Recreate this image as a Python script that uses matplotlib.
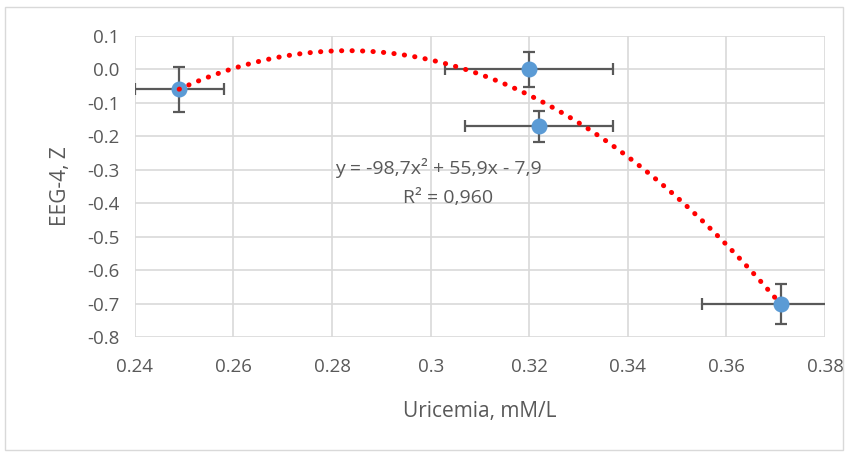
import numpy as np
import matplotlib
matplotlib.use("Agg")
import matplotlib.pyplot as plt
from matplotlib.patches import Rectangle

uricemia = [0.249, 0.320, 0.322, 0.371]
eeg_z = [-0.06, 0.00, -0.17, -0.70]
x_err = [0.009, 0.017, 0.015, 0.016]
y_err = [0.067, 0.052, 0.047, 0.060]
x_ticks = [0.24, 0.26, 0.28, 0.30, 0.32, 0.34, 0.36, 0.38]
x_tick_labels = ["0.24", "0.26", "0.28", "0.3", "0.32", "0.34", "0.36", "0.38"]
y_ticks = [0.1, 0.0, -0.1, -0.2, -0.3, -0.4, -0.5, -0.6, -0.7, -0.8]
y_tick_labels = ["0.1", "0.0", "-0.1", "-0.2", "-0.3", "-0.4", "-0.5", "-0.6", "-0.7", "-0.8"]
equation = "y = -98,7x² + 55,9x - 7,9"
r_squared = "R² = 0,960"

plt.rcParams['font.family'] = ['Open Sans', 'DejaVu Sans']
txt = '#595959'

fig = plt.figure(figsize=(8.48, 4.55), dpi=100)
fig.patches.append(Rectangle((0.006, 0.01), 0.988, 0.975, transform=fig.transFigure,
                             fill=False, edgecolor='#d9d9d9', linewidth=1.0))
ax = fig.add_axes([0.159, 0.259, 0.814, 0.662])

# trendline (2nd order polynomial fit)
coef = np.polyfit(uricemia, eeg_z, 2)
xs = np.linspace(min(uricemia), max(uricemia), 200)
ax.plot(xs, np.polyval(coef, xs), color='#ff0000', linewidth=3.6,
        linestyle=(0, (0.05, 2.05)), dash_capstyle='round', zorder=4)

ax.errorbar(uricemia, eeg_z, xerr=x_err, yerr=y_err, fmt='none',
            ecolor='#595959', elinewidth=1.6, capsize=4.5, capthick=1.6, zorder=3)
ax.plot(uricemia, eeg_z, 'o', color='#5b9bd5', markersize=10.5, zorder=3.5)

ax.text(0.3015, -0.295, equation, ha='center', va='center', fontsize=14, color=txt)
ax.text(0.3035, -0.385, r_squared, ha='center', va='center', fontsize=14, color=txt)

ax.set_xlim(0.24, 0.38)
ax.set_ylim(-0.8, 0.1)
ax.set_xticks(x_ticks)
ax.set_xticklabels(x_tick_labels)
ax.set_yticks(y_ticks)
ax.set_yticklabels(y_tick_labels)
ax.tick_params(length=0, labelsize=13.5, labelcolor=txt)
ax.tick_params(axis='x', pad=15)
ax.tick_params(axis='y', pad=11)
ax.grid(True, color='#d9d9d9', linewidth=1.2)
ax.set_axisbelow(True)
for s in ax.spines.values():
    s.set_visible(False)
ax.set_xlabel("Uricemia, mM/L", fontsize=15, color=txt, labelpad=18)
ax.set_ylabel("EEG-4, Z", fontsize=15, color=txt, labelpad=12)

fig.savefig("out.png", dpi=100)
